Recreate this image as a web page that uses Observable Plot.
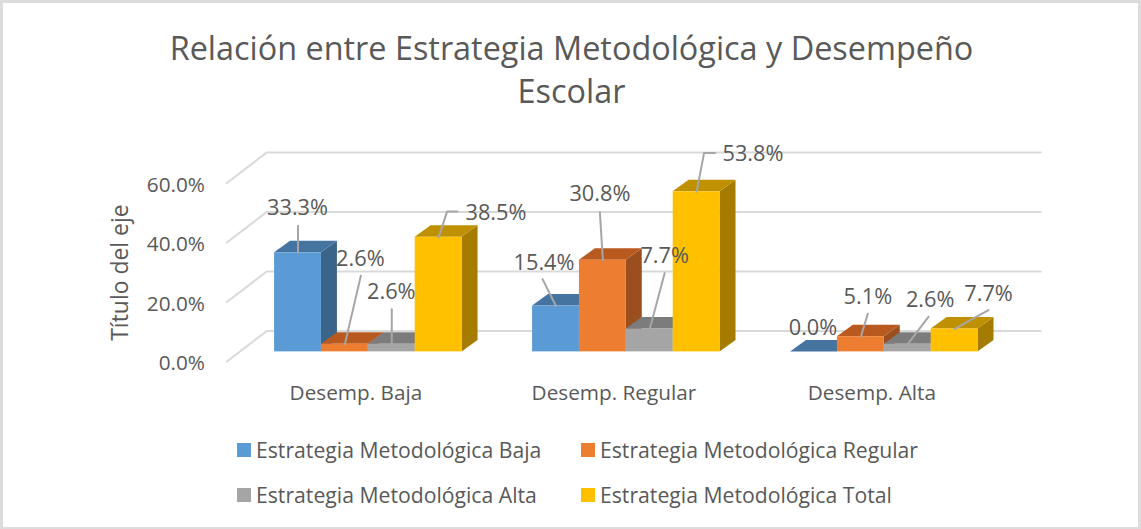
<!DOCTYPE html>
<html>
<head>
<meta charset="utf-8">
<script src="https://cdn.jsdelivr.net/npm/d3@7"></script>
<script src="https://cdn.jsdelivr.net/npm/@observablehq/plot@0.6"></script>
<style>
  html, body { margin: 0; padding: 0; background: #fff; }
  #frame { position: relative; width: 1141px; height: 529px; box-sizing: border-box; border: 3px solid #dcdcdc; border-bottom-width: 2px; overflow: hidden; font-family: "Open Sans", sans-serif; color: #595959; background: #fff; }
  #title { position: absolute; left: -2px; top: 23px; width: 1141px; text-align: center; font-size: 32.4px; line-height: 43px; margin: 0; font-weight: 400; }
  #chart { position: absolute; left: -3px; top: 114px; }
  #chart svg { overflow: visible; display: block; }
  .leg { position: absolute; font-size: 21.2px; line-height: 24px; white-space: nowrap; }
  .leg i { position: absolute; left: -19px; top: 5px; width: 14px; height: 14px; }
</style>
</head>
<body>
<div id="frame">
  <h1 id="title">Relación entre Estrategia Metodológica y Desempeño<br>Escolar</h1>
  <div id="chart"></div>
  <div id="legend"></div>
</div>
<script>
// ---- data ----
const categories = ["Desemp. Baja", "Desemp. Regular", "Desemp. Alta"];
const seriesNames = ["Estrategia Metodológica Baja", "Estrategia Metodológica Regular", "Estrategia Metodológica Alta", "Estrategia Metodológica Total"];
const baja = [33.3, 15.4, 0.0];
const regular = [2.6, 30.8, 5.1];
const alta = [2.6, 7.7, 2.6];
const total = [38.5, 53.8, 7.7];
const yTicks = [0, 20, 40, 60];

// ---- styles ----
const frontColors = ["#5B9BD5", "#ED7D31", "#A5A5A5", "#FFC000"];
const topColors = ["#4674A1", "#B85A20", "#7C7C7C", "#BF9000"];
const sideColors = ["#3A6488", "#9C4F1E", "#6A6A6A", "#A67C00"];

// ---- layout (pixels per scale unit, then 3D depth and label offsets in pixels) ----
const W = 1141, H = 300, mL = 227, mR = 138, mT = 56, mB = 65;
const pxX = (W - mL - mR) / 3, pxY = (H - mT - mB) / 60;
const ux = p => p / pxX, uy = p => p / pxY;
const barStart = ux(47.8), barW = ux(47), depthX = ux(16), depthY = uy(11.5);
// per bar: label offset, then leader waypoints, relative to the top-centre of its front face; y up is negative
const labelLayout = [
  [{l:[-1,-46],  p:[[0,-27]]},                {l:[-12.5,-44], p:[[-13.5,-27]]},          {l:[-1.5,-25], p:[]}],
  [{l:[15,-86],  p:[[16,-68.5]]},             {l:[-3.5,-67],  p:[[-3,-48]]},             {l:[6.5,-41],  p:[[7,-23]]}],
  [{l:[-1,-53.5],p:[[0,-35]]},                {l:[14.5,-74],  p:[[15,-56]]},             {l:[22,-45],   p:[[21,-27.5]]}],
  [{l:[57,-25],  p:[[8.5,-26],[19,-26]]},     {l:[56,-39],    p:[[7.5,-39],[18.5,-39]]}, {l:[33.5,-36], p:[[34,-19]]}]
];

const values = [baja, regular, alta, total];
const pct = v => v.toFixed(1) + "%";

// ---- wall and floor gridlines ----
const wallX = ux(40), floorFront = uy(9.7), floorBack = uy(21);
const grid = yTicks.flatMap(t => [
  {t, x: 0, y: t - floorFront},
  {t, x: wallX, y: t + floorBack},
  {t, x: 3 + wallX, y: t + floorBack}
]);

// ---- 3D bars, painted left to right so neighbours overlap properly ----
const barMarks = [];
const labels = [], leaders = [];
categories.forEach((cat, g) => {
  values.forEach((vals, s) => {
    const v = vals[g];
    const x1 = g + barStart + s * barW, x2 = x1 + barW;
    const side = [{x: x2, y1: 0, y2: v}, {x: x2 + depthX, y1: depthY, y2: v + depthY}];
    const top = [{y: v, x1, x2}, {y: v + depthY, x1: x1 + depthX, x2: x2 + depthX}];
    barMarks.push(Plot.areaY(side, {x: "x", y1: "y1", y2: "y2", fill: sideColors[s]}));
    barMarks.push(Plot.areaX(top, {y: "y", x1: "x1", x2: "x2", fill: topColors[s]}));
    barMarks.push(Plot.rectY([{x1, x2, v, series: seriesNames[s]}], {x1: "x1", x2: "x2", y1: 0, y2: "v", fill: frontColors[s]}));
    const cx = (x1 + x2) / 2, lay = labelLayout[s][g];
    labels.push({x: cx + ux(lay.l[0]), y: v - uy(lay.l[1]), text: pct(v)});
    if (lay.p.length) {
      const id = g * 10 + s;
      leaders.push({id, x: cx, y: v});
      lay.p.forEach(q => leaders.push({id, x: cx + ux(q[0]), y: v - uy(q[1])}));
    }
  });
});

const chart = Plot.plot({
  width: W, height: H,
  marginLeft: mL, marginRight: mR, marginTop: mT, marginBottom: mB,
  x: {domain: [0, 3], axis: null},
  y: {domain: [0, 60], axis: null},
  style: {color: "#595959", fontFamily: '"Open Sans", sans-serif', background: "transparent", overflow: "visible"},
  marks: [
    Plot.line(grid, {x: "x", y: "y", z: "t", stroke: "#D9D9D9", strokeWidth: 2}),
    Plot.axisY({ticks: yTicks, tickSize: 0, tickPadding: 22, dy: 12, fontSize: 20.8, tickFormat: pct, label: null}),
    Plot.text(["Título del eje"], {frameAnchor: "left", textAnchor: "middle", rotate: -90, dx: -107, dy: 10, fontSize: 23, fill: "#595959"}),
    Plot.axisX({ticks: [0.5, 1.5, 2.5], tickSize: 0, tickPadding: 33, fontSize: 20.8, label: null,
      tickFormat: t => categories[Math.floor(t)]}),
    ...barMarks,
    Plot.line(leaders, {x: "x", y: "y", z: "id", stroke: "#A6A6A6", strokeWidth: 2, curve: "linear"}),
    Plot.text(labels, {x: "x", y: "y", dy: 1, dx: 0.5, text: "text", fontSize: 21.8, fill: "#595959"})
  ]
});
document.getElementById("chart").appendChild(chart);

// ---- legend ----
const legendPos = [[253, 435], [597, 435], [253, 480], [597, 480]];
const legend = document.getElementById("legend");
seriesNames.forEach((name, i) => {
  const d = document.createElement("div");
  d.className = "leg";
  d.style.left = legendPos[i][0] + "px";
  d.style.top = legendPos[i][1] + "px";
  d.innerHTML = `<i style="background:${frontColors[i]}"></i>${name}`;
  legend.appendChild(d);
});
</script>
</body>
</html>
